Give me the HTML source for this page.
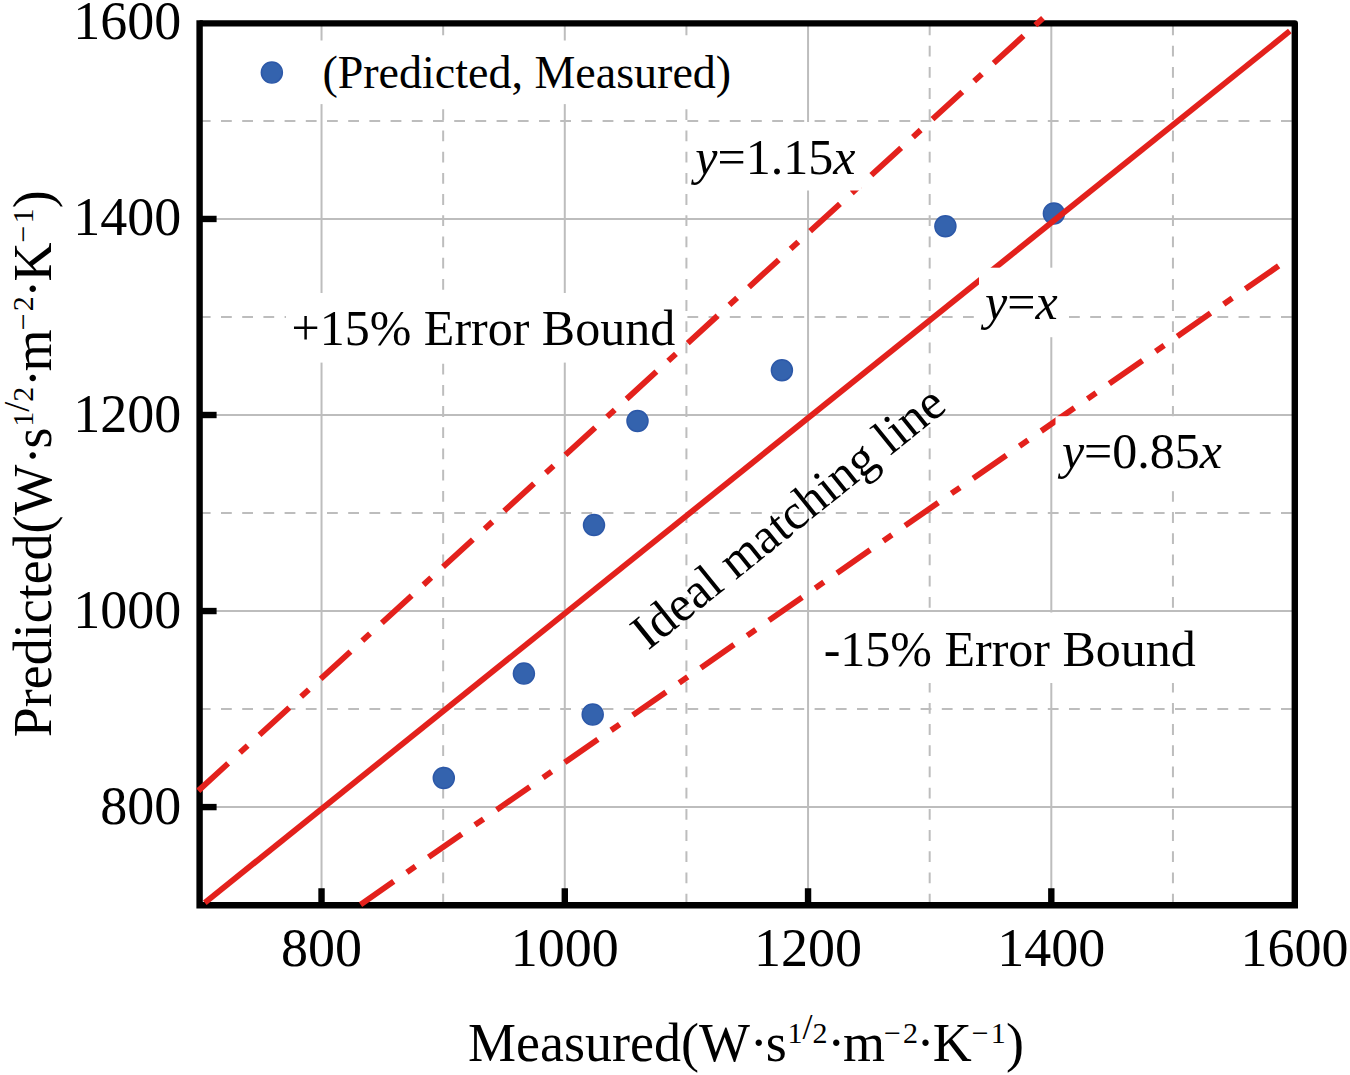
<!DOCTYPE html><html><head><meta charset="utf-8"><style>html,body{margin:0;padding:0;background:#fff;}svg{display:block}text{font-family:"Liberation Serif",serif;fill:#000}</style></head><body>
<svg width="1350" height="1075" viewBox="0 0 1350 1075">
<rect x="0" y="0" width="1350" height="1075" fill="#fff"/>
<g><line x1="321.53" y1="23.40" x2="321.53" y2="905.25" stroke="#BDBDBD" stroke-width="2"/><line x1="443.16" y1="24.5" x2="443.16" y2="905.25" stroke="#BDBDBD" stroke-width="2" stroke-dasharray="10.8 10.4"/><line x1="564.79" y1="23.40" x2="564.79" y2="905.25" stroke="#BDBDBD" stroke-width="2"/><line x1="686.42" y1="24.5" x2="686.42" y2="905.25" stroke="#BDBDBD" stroke-width="2" stroke-dasharray="10.8 10.4"/><line x1="808.05" y1="23.40" x2="808.05" y2="905.25" stroke="#BDBDBD" stroke-width="2"/><line x1="929.68" y1="24.5" x2="929.68" y2="905.25" stroke="#BDBDBD" stroke-width="2" stroke-dasharray="10.8 10.4"/><line x1="1051.31" y1="23.40" x2="1051.31" y2="905.25" stroke="#BDBDBD" stroke-width="2"/><line x1="1172.94" y1="24.5" x2="1172.94" y2="905.25" stroke="#BDBDBD" stroke-width="2" stroke-dasharray="10.8 10.4"/><line x1="199.60" y1="807.08" x2="1294.80" y2="807.08" stroke="#BDBDBD" stroke-width="2"/><line x1="199.8" y1="709.06" x2="1294.80" y2="709.06" stroke="#BDBDBD" stroke-width="2" stroke-dasharray="10.8 10.4"/><line x1="199.60" y1="611.04" x2="1294.80" y2="611.04" stroke="#BDBDBD" stroke-width="2"/><line x1="199.8" y1="513.02" x2="1294.80" y2="513.02" stroke="#BDBDBD" stroke-width="2" stroke-dasharray="10.8 10.4"/><line x1="199.60" y1="415.00" x2="1294.80" y2="415.00" stroke="#BDBDBD" stroke-width="2"/><line x1="199.8" y1="316.98" x2="1294.80" y2="316.98" stroke="#BDBDBD" stroke-width="2" stroke-dasharray="10.8 10.4"/><line x1="199.60" y1="218.96" x2="1294.80" y2="218.96" stroke="#BDBDBD" stroke-width="2"/><line x1="199.8" y1="120.94" x2="1294.80" y2="120.94" stroke="#BDBDBD" stroke-width="2" stroke-dasharray="10.8 10.4"/></g>
<rect x="204" y="40.5" width="520" height="63.6" fill="#fff"/>
<rect x="286" y="293" width="399" height="69.6" fill="#fff"/>
<g fill="#3463AE" stroke="#2C58A8" stroke-width="1.5"><circle cx="443.8" cy="778" r="10.5"/><circle cx="523.9" cy="673.6" r="10.5"/><circle cx="592.7" cy="714.5" r="10.5"/><circle cx="594" cy="525.1" r="10.5"/><circle cx="637.5" cy="421" r="10.5"/><circle cx="781.9" cy="370.2" r="10.5"/><circle cx="945.4" cy="226.3" r="10.5"/><circle cx="1053.9" cy="213.5" r="10.5"/></g>
<circle cx="271.85" cy="72.5" r="10.5" fill="#3463AE" stroke="#2C58A8" stroke-width="1.5"/>
<path d="M199.60,23.40 L1294.80,23.40 L1294.80,905.25" fill="none" stroke="#000" stroke-width="6.4" stroke-linejoin="round"/>
<path d="M199.60,23.40 L199.60,905.25 L1294.80,905.25" fill="none" stroke="#000" stroke-width="6.4" stroke-linejoin="miter" stroke-linecap="square"/>
<g><line x1="321.53" y1="905.25" x2="321.53" y2="888.25" stroke="#000" stroke-width="6.4"/><line x1="199.60" y1="807.08" x2="216.60" y2="807.08" stroke="#000" stroke-width="6.4"/><line x1="564.79" y1="905.25" x2="564.79" y2="888.25" stroke="#000" stroke-width="6.4"/><line x1="199.60" y1="611.04" x2="216.60" y2="611.04" stroke="#000" stroke-width="6.4"/><line x1="808.05" y1="905.25" x2="808.05" y2="888.25" stroke="#000" stroke-width="6.4"/><line x1="199.60" y1="415.00" x2="216.60" y2="415.00" stroke="#000" stroke-width="6.4"/><line x1="1051.31" y1="905.25" x2="1051.31" y2="888.25" stroke="#000" stroke-width="6.4"/><line x1="199.60" y1="218.96" x2="216.60" y2="218.96" stroke="#000" stroke-width="6.4"/></g>
<line x1="204.8" y1="902.7" x2="1289.8" y2="31.1" stroke="#E3211C" stroke-width="5.8"/>
<line x1="198.30" y1="790.75" x2="1046.86" y2="14.57" stroke="#E3211C" stroke-width="5.8" stroke-dasharray="40.4 16.05 10.42 16.05" stroke-dashoffset="0"/>
<line x1="360.55" y1="904.55" x2="1279.94" y2="264.93" stroke="#E3211C" stroke-width="5.8" stroke-dasharray="40.4 16.05 10.42 16.05" stroke-dashoffset="0"/>
<rect x="689" y="122" width="172" height="68.5" fill="#fff"/>
<rect x="979" y="267.7" width="90" height="69.5" fill="#fff"/>
<rect x="1055.5" y="416.2" width="172" height="75" fill="#fff"/>
<rect x="812" y="612.5" width="400" height="70.5" fill="#fff"/>
<text x="181.3" y="823.58" font-size="54" text-anchor="end">800</text><text x="181.3" y="627.54" font-size="54" text-anchor="end">1000</text><text x="181.3" y="431.50" font-size="54" text-anchor="end">1200</text><text x="181.3" y="235.46" font-size="54" text-anchor="end">1400</text><text x="181.3" y="39.42" font-size="54" text-anchor="end">1600</text><text x="321.53" y="966" font-size="54" text-anchor="middle">800</text><text x="564.79" y="966" font-size="54" text-anchor="middle">1000</text><text x="808.05" y="966" font-size="54" text-anchor="middle">1200</text><text x="1051.31" y="966" font-size="54" text-anchor="middle">1400</text><text x="1294.57" y="966" font-size="54" text-anchor="middle">1600</text><text x="322.4" y="88.1" font-size="46">(Predicted, Measured)</text><text x="695.3" y="173.7" font-size="50"><tspan font-style="italic">y</tspan>=1.15<tspan font-style="italic">x</tspan></text><text x="291.5" y="344.6" font-size="50">+15% Error Bound</text><text x="985.1" y="319.3" font-size="50"><tspan font-style="italic">y</tspan>=<tspan font-style="italic">x</tspan></text><text x="1061.9" y="467.6" font-size="50"><tspan font-style="italic">y</tspan>=0.85<tspan font-style="italic">x</tspan></text><text x="823.7" y="665.8" font-size="50">-15% Error Bound</text><text transform="translate(648.0,651.1) rotate(-38.85)" x="0" y="0" font-size="50">Ideal matching line</text><text x="468" y="1061" font-size="54">Measured(W·</text><text x="765.8" y="1061" font-size="54">s</text><text x="787.5" y="1043" font-size="30">1</text><text x="802.6" y="1039" font-size="36">/</text><text x="812.6" y="1043" font-size="30">2</text><text x="827.3" y="1061" font-size="54">·</text><text x="842.9" y="1061" font-size="54">m</text><text x="884.1" y="1043" font-size="30">−</text><text x="903.1" y="1043" font-size="30">2</text><text x="916.6" y="1061" font-size="54">·</text><text x="932.8" y="1061" font-size="54">K</text><text x="971.8" y="1043" font-size="30">−</text><text x="990.7" y="1043" font-size="30">1</text><text x="1006.1" y="1061" font-size="54">)</text><g transform="translate(51,737.3) rotate(-90)"><text x="0" y="0" font-size="54">Predicted(W·</text><text x="288.81" y="0" font-size="54">s</text><text x="310.51" y="-18" font-size="30">1</text><text x="325.61" y="-22" font-size="36">/</text><text x="335.61" y="-18" font-size="30">2</text><text x="350.31" y="0" font-size="54">·</text><text x="365.91" y="0" font-size="54">m</text><text x="407.11" y="-18" font-size="30">−</text><text x="426.11" y="-18" font-size="30">2</text><text x="439.61" y="0" font-size="54">·</text><text x="455.81" y="0" font-size="54">K</text><text x="494.81" y="-18" font-size="30">−</text><text x="513.71" y="-18" font-size="30">1</text><text x="529.11" y="0" font-size="54">)</text></g>
</svg></body></html>
